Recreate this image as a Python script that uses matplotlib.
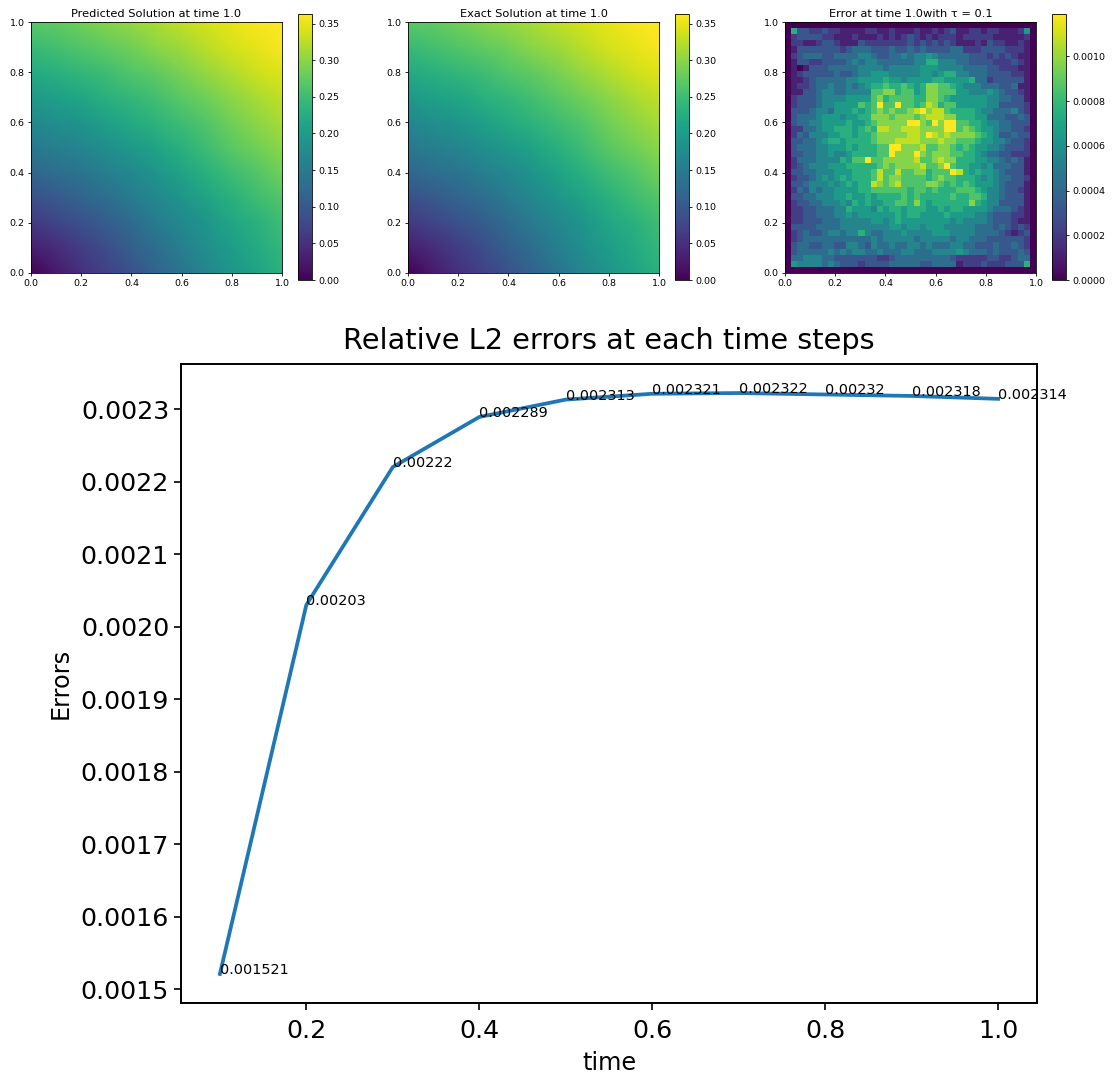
import numpy as np
import matplotlib
matplotlib.use('Agg')
import matplotlib.pyplot as plt

times = [0.1, 0.2, 0.3, 0.4, 0.5, 0.6, 0.7, 0.8, 0.9, 1.0]
errors = [0.001521, 0.00203, 0.00222, 0.002289, 0.002313, 0.002321, 0.002322, 0.00232, 0.002318, 0.002314]

grid_x = [0.0, 0.1, 0.2, 0.3, 0.4, 0.5, 0.6, 0.7, 0.8, 0.9, 1.0]
grid_y = [0.0, 0.1, 0.2, 0.3, 0.4, 0.5, 0.6, 0.7, 0.8, 0.9, 1.0]

# rows go from y=0 upward
solution = [
    [.00, .025, .05, .07, .09, .115, .14, .165, .19, .21, .23],
    [.03, .045, .065, .085, .11, .13, .155, .18, .20, .22, .24],
    [.06, .075, .09, .105, .125, .15, .17, .19, .215, .23, .25],
    [.09, .10, .115, .13, .15, .17, .19, .21, .23, .25, .265],
    [.12, .13, .14, .155, .17, .19, .21, .23, .25, .265, .285],
    [.145, .155, .165, .18, .195, .21, .23, .25, .27, .285, .30],
    [.17, .18, .19, .205, .22, .235, .25, .265, .285, .30, .315],
    [.195, .205, .215, .23, .24, .255, .27, .285, .30, .315, .33],
    [.22, .23, .24, .25, .265, .275, .29, .305, .32, .335, .345],
    [.245, .255, .265, .275, .285, .30, .31, .325, .34, .35, .36],
    [.27, .275, .285, .295, .305, .315, .33, .34, .35, .36, .365],
]

# error cells in units of 1.08e-4, rows go from the top down
error_cells = [
    [0] * 41,
    [0, 7, 3, 3, 2, 2, 3, 2, 2, 1, 1, 1, 1, 2, 2, 1, 1, 2, 1, 1, 1, 2, 1, 1, 2, 1, 2, 3, 1, 1, 2, 2, 1, 2, 2, 1, 1, 1, 2, 6, 0],
    [0, 2, 3, 3, 3, 3, 2, 2, 1, 1, 1, 2, 1, 1, 1, 2, 1, 2, 1, 2, 3, 2, 1, 2, 1, 2, 2, 2, 1, 2, 2, 2, 2, 2, 1, 1, 1, 1, 1, 2, 0],
    [0, 2, 2, 1, 1, 2, 3, 3, 2, 1, 1, 1, 3, 2, 2, 2, 2, 2, 2, 2, 3, 2, 3, 2, 3, 2, 3, 2, 1, 1, 1, 2, 1, 3, 2, 2, 1, 1, 2, 1, 0],
    [0, 1, 3, 3, 3, 3, 3, 3, 3, 2, 3, 4, 4, 4, 3, 3, 3, 4, 3, 3, 4, 3, 4, 3, 3, 3, 3, 4, 4, 2, 2, 2, 3, 3, 3, 3, 2, 2, 2, 1, 0],
    [0, 2, 3, 4, 4, 4, 3, 3, 4, 4, 4, 4, 5, 5, 4, 3, 3, 4, 4, 5, 4, 5, 5, 6, 5, 4, 4, 4, 4, 4, 3, 3, 3, 2, 3, 2, 3, 2, 1, 1, 0],
    [0, 1, 3, 3, 2, 2, 3, 3, 3, 3, 4, 5, 4, 5, 5, 4, 4, 4, 4, 4, 4, 5, 5, 7, 7, 5, 5, 5, 4, 4, 3, 3, 3, 3, 2, 2, 2, 3, 2, 1, 0],
    [0, 1, 0, 1, 3, 3, 3, 4, 4, 4, 4, 4, 5, 5, 5, 5, 4, 5, 5, 5, 5, 5, 6, 6, 6, 5, 5, 5, 5, 4, 4, 4, 4, 3, 3, 2, 2, 2, 1, 1, 0],
    [0, 1, 2, 3, 3, 3, 3, 3, 4, 3, 3, 4, 5, 5, 6, 6, 6, 5, 5, 5, 5, 5, 6, 6, 5, 6, 7, 7, 5, 5, 4, 4, 4, 3, 3, 3, 3, 2, 2, 1, 0],
    [0, 1, 1, 2, 3, 4, 4, 4, 4, 4, 5, 5, 6, 6, 6, 6, 7, 6, 6, 5, 6, 6, 6, 6, 7, 7, 6, 6, 6, 6, 7, 4, 4, 2, 3, 3, 3, 3, 3, 1, 0],
    [0, 1, 2, 2, 3, 4, 4, 5, 4, 4, 5, 4, 5, 6, 7, 7, 8, 7, 7, 8, 7, 6, 7, 9, 9, 8, 8, 7, 6, 5, 5, 5, 4, 4, 4, 3, 3, 4, 1, 1, 0],
    [0, 1, 1, 3, 3, 4, 5, 5, 4, 4, 5, 5, 5, 5, 8, 8, 9, 9, 7, 8, 8, 6, 7, 9, 9, 8, 8, 8, 6, 6, 5, 5, 5, 6, 5, 4, 3, 3, 2, 1, 0],
    [0, 2, 3, 3, 3, 4, 5, 5, 5, 5, 6, 6, 6, 6, 8, 9, 7, 8, 8, 8, 8, 7, 7, 9, 9, 8, 7, 6, 6, 6, 6, 6, 6, 5, 5, 4, 4, 3, 3, 1, 0],
    [0, 2, 3, 3, 3, 4, 5, 5, 6, 6, 6, 6, 8, 7, 8, 11, 8, 8, 11, 8, 8, 7, 8, 10, 9, 7, 8, 8, 6, 6, 6, 6, 6, 5, 5, 3, 3, 3, 3, 2, 0],
    [0, 3, 3, 3, 4, 5, 5, 4, 6, 6, 6, 7, 6, 7, 8, 9, 8, 9, 8, 8, 9, 10, 11, 9, 10, 10, 8, 7, 7, 7, 7, 6, 5, 5, 4, 4, 4, 5, 3, 2, 0],
    [0, 3, 4, 4, 4, 5, 6, 6, 6, 5, 6, 6, 7, 7, 9, 9, 9, 8, 9, 9, 9, 8, 9, 10, 10, 10, 9, 9, 7, 7, 7, 6, 6, 4, 4, 4, 3, 3, 4, 3, 0],
    [0, 3, 4, 4, 5, 5, 6, 6, 6, 6, 7, 6, 6, 7, 8, 9, 9, 9, 9, 9, 12, 12, 9, 8, 11, 9, 11, 11, 8, 8, 7, 7, 6, 5, 5, 4, 4, 3, 3, 3, 0],
    [0, 2, 2, 4, 4, 5, 6, 6, 7, 7, 7, 6, 7, 8, 7, 10, 10, 9, 9, 10, 10, 10, 9, 9, 9, 9, 11, 11, 8, 9, 8, 7, 6, 6, 5, 4, 4, 3, 3, 2, 0],
    [0, 2, 4, 3, 5, 5, 5, 6, 6, 7, 7, 6, 7, 7, 8, 9, 9, 9, 9, 9, 10, 10, 9, 11, 10, 9, 10, 9, 9, 9, 9, 8, 7, 6, 5, 3, 3, 4, 3, 3, 0],
    [0, 3, 3, 4, 4, 5, 6, 7, 7, 6, 7, 7, 7, 7, 8, 9, 9, 9, 10, 10, 10, 10, 9, 9, 9, 10, 9, 9, 8, 8, 8, 7, 6, 6, 5, 5, 4, 3, 3, 2, 0],
    [0, 3, 4, 4, 4, 5, 5, 6, 6, 6, 7, 6, 7, 7, 7, 8, 8, 11, 11, 9, 9, 9, 10, 8, 8, 9, 9, 8, 7, 8, 7, 6, 6, 5, 5, 4, 3, 3, 3, 2, 0],
    [0, 3, 3, 4, 4, 5, 5, 6, 5, 5, 6, 7, 7, 7, 7, 8, 8, 12, 9, 9, 9, 11, 9, 8, 9, 9, 9, 8, 8, 7, 7, 6, 5, 4, 4, 3, 3, 2, 2, 2, 0],
    [0, 2, 4, 4, 4, 5, 5, 5, 5, 7, 6, 8, 8, 11, 8, 8, 9, 9, 9, 9, 9, 10, 8, 8, 9, 10, 9, 9, 7, 7, 7, 6, 6, 5, 5, 4, 3, 4, 3, 1, 0],
    [0, 2, 3, 4, 5, 5, 5, 6, 6, 6, 7, 7, 7, 7, 7, 8, 9, 8, 9, 9, 9, 9, 10, 8, 8, 9, 11, 8, 7, 7, 6, 6, 5, 6, 4, 4, 4, 3, 3, 1, 0],
    [0, 3, 3, 4, 4, 5, 5, 5, 6, 6, 6, 7, 7, 7, 8, 10, 8, 8, 10, 8, 8, 9, 9, 7, 8, 8, 8, 11, 10, 7, 6, 7, 6, 6, 5, 4, 3, 3, 3, 1, 0],
    [0, 2, 3, 3, 4, 5, 6, 5, 6, 7, 6, 7, 7, 7, 8, 10, 8, 9, 9, 8, 8, 8, 8, 7, 8, 9, 8, 8, 7, 7, 7, 6, 5, 6, 5, 4, 4, 3, 3, 2, 0],
    [0, 3, 3, 4, 5, 5, 5, 6, 5, 6, 7, 6, 7, 7, 10, 9, 8, 9, 10, 8, 8, 8, 8, 9, 9, 8, 7, 8, 7, 8, 7, 6, 6, 6, 5, 4, 3, 3, 3, 1, 0],
    [0, 2, 4, 3, 5, 4, 5, 5, 6, 6, 6, 6, 7, 7, 8, 8, 8, 8, 8, 8, 7, 8, 8, 7, 8, 7, 7, 7, 8, 8, 8, 7, 6, 5, 5, 4, 3, 3, 2, 1, 0],
    [0, 3, 3, 4, 4, 5, 5, 5, 6, 6, 7, 6, 6, 7, 6, 7, 7, 7, 7, 8, 7, 8, 7, 7, 7, 7, 7, 8, 7, 7, 8, 8, 7, 5, 5, 4, 3, 3, 3, 1, 0],
    [0, 2, 3, 3, 4, 4, 5, 5, 5, 6, 5, 7, 6, 7, 6, 6, 7, 7, 8, 8, 7, 9, 7, 6, 7, 7, 7, 7, 7, 7, 9, 7, 6, 5, 5, 3, 3, 3, 3, 1, 0],
    [0, 2, 2, 3, 3, 4, 4, 4, 5, 5, 7, 6, 6, 6, 5, 7, 6, 7, 7, 6, 7, 7, 7, 6, 6, 7, 6, 7, 7, 6, 6, 6, 6, 5, 4, 4, 4, 3, 2, 1, 0],
    [0, 2, 2, 3, 3, 4, 4, 4, 5, 5, 6, 5, 6, 6, 6, 6, 6, 6, 7, 6, 7, 7, 6, 6, 6, 6, 7, 6, 6, 6, 6, 5, 5, 4, 3, 3, 3, 2, 2, 1, 0],
    [0, 2, 2, 3, 3, 3, 4, 4, 4, 5, 5, 5, 5, 5, 6, 6, 5, 6, 7, 6, 6, 6, 6, 6, 6, 6, 6, 5, 6, 5, 5, 5, 5, 4, 3, 3, 3, 2, 1, 1, 0],
    [0, 3, 3, 3, 3, 4, 4, 4, 4, 5, 5, 5, 5, 5, 5, 5, 5, 6, 6, 5, 6, 6, 5, 6, 6, 6, 5, 5, 5, 5, 5, 4, 4, 4, 3, 4, 3, 2, 3, 2, 0],
    [0, 2, 3, 4, 3, 3, 4, 5, 5, 4, 5, 5, 7, 5, 4, 4, 5, 5, 5, 6, 5, 5, 5, 5, 6, 6, 6, 5, 5, 5, 5, 4, 4, 4, 4, 3, 2, 1, 2, 3, 0],
    [0, 2, 3, 4, 4, 4, 4, 4, 4, 4, 4, 4, 4, 4, 5, 4, 5, 5, 5, 5, 5, 4, 5, 5, 5, 5, 5, 4, 5, 5, 4, 4, 4, 3, 3, 3, 3, 3, 3, 2, 0],
    [0, 3, 4, 4, 3, 3, 4, 4, 3, 3, 5, 5, 4, 3, 5, 4, 4, 5, 4, 4, 5, 5, 4, 5, 4, 4, 4, 5, 5, 4, 4, 3, 3, 3, 4, 3, 3, 4, 3, 2, 0],
    [0, 3, 4, 4, 4, 4, 4, 5, 4, 5, 4, 5, 5, 4, 4, 5, 4, 4, 4, 5, 5, 4, 4, 4, 5, 5, 5, 5, 6, 5, 4, 4, 4, 3, 4, 3, 3, 3, 4, 3, 0],
    [0, 4, 4, 5, 5, 5, 4, 4, 3, 3, 3, 3, 3, 3, 3, 2, 2, 3, 4, 4, 4, 4, 4, 4, 4, 4, 4, 3, 2, 2, 2, 2, 2, 3, 3, 2, 2, 3, 4, 4, 0],
    [0, 6, 5, 5, 5, 5, 4, 5, 4, 3, 3, 3, 2, 3, 3, 3, 3, 4, 4, 4, 4, 4, 3, 3, 4, 4, 4, 4, 1, 2, 2, 2, 3, 2, 2, 2, 3, 3, 3, 7, 0],
    [0] * 41,
]


def axes_px(fig, left, top, right, bottom):
    # position given in pixels of the saved image, y from the top
    w, h = fig.canvas.get_width_height()
    return fig.add_axes([left / w, 1 - bottom / h, (right - left) / w, (bottom - top) / h])


def small_panel(fig, left, title, draw):
    ax = axes_px(fig, left, 22, left + 251, 273)
    im = draw(ax)
    ax.set_xlim(0, 1)
    ax.set_ylim(0, 1)
    ax.set_xticks(np.arange(0, 1.01, 0.2))
    ax.set_yticks(np.arange(0, 1.01, 0.2))
    ax.tick_params(labelsize=6.8, length=2.5, width=0.6, pad=2)
    ax.set_title(title, fontsize=8.2, pad=3.5)
    for s in ax.spines.values():
        s.set_linewidth(0.6)
    cax = axes_px(fig, left + 267, 14, left + 281, 280)
    cb = fig.colorbar(im, cax=cax)
    cb.ax.tick_params(labelsize=6.8, length=2.5, width=0.6, pad=2)
    cb.outline.set_linewidth(0.6)
    return cb


def main():
    fig = plt.figure(figsize=(11.13, 10.79), dpi=100)

    def smooth(ax):
        return ax.pcolormesh(grid_x, grid_y, solution, shading='gouraud', vmin=0, vmax=0.363)

    def cells(ax):
        vals = np.array(error_cells) * 1.08e-4
        return ax.imshow(vals, extent=(0, 1, 0, 1), aspect='auto', vmin=0, vmax=0.00119,
                         interpolation='nearest')

    small_panel(fig, 31, 'Predicted Solution at time 1.0', smooth)
    small_panel(fig, 408, 'Exact Solution at time 1.0', smooth)
    cb = small_panel(fig, 785, 'Error at time 1.0with \u03c4 = 0.1', cells)
    cb.set_ticks([0, 0.0002, 0.0004, 0.0006, 0.0008, 0.0010])
    cb.ax.set_yticklabels(['0.0000', '0.0002', '0.0004', '0.0006', '0.0008', '0.0010'])

    ax = axes_px(fig, 181, 364, 1037, 1003)
    ax.plot(times, errors, linewidth=2.7)
    for t, e in zip(times, errors):
        ax.text(t, e, str(e), fontsize=10.4)
    ax.tick_params(labelsize=18.2, length=5, width=1.2)
    ax.tick_params(axis='x', pad=6.5)
    ax.set_xticks([0.2, 0.4, 0.6, 0.8, 1.0])
    ax.set_xlabel('time', fontsize=17.3, labelpad=6)
    ax.set_ylabel('Errors', fontsize=17.3, labelpad=6)
    ax.set_title('Relative L2 errors at each time steps', fontsize=20.7, pad=10.5)
    for s in ax.spines.values():
        s.set_linewidth(1.4)

    fig.savefig('out.png', dpi=100)


if __name__ == '__main__':
    main()
